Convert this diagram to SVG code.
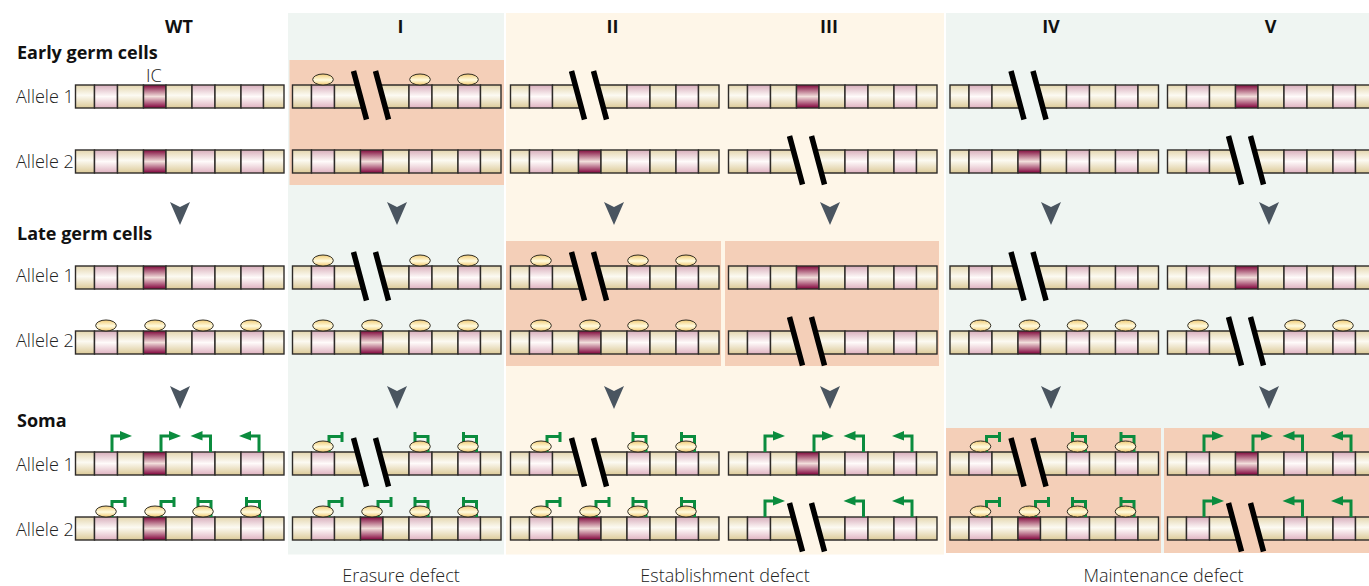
<svg xmlns="http://www.w3.org/2000/svg" width="1369" height="586" viewBox="0 0 1369 586">
<style>
text{font-family:"Open Sans","Liberation Sans",sans-serif;fill:#222;font-size:18px;font-weight:300}
.h{font-weight:700;fill:#111}
.c{text-anchor:middle}
.cell{stroke:#2e2b29;stroke-width:1.4}
.be{fill:url(#gb)}.pk{fill:url(#gp)}.ic{fill:url(#gi)}
.slash{stroke:#000;stroke-width:5.500;fill:none}
.gr{stroke:#0b8c3e;stroke-width:3;fill:none}
.grf{fill:#0b8c3e}
.el{fill:url(#ge);stroke:#2e2a20;stroke-width:1}
.chev{fill:#4a5560}
</style>
<defs>
<linearGradient id="gb" x1="0" y1="0" x2="0" y2="1"><stop offset="0" stop-color="#e4d6ae"/><stop offset=".45" stop-color="#fcfaf2"/><stop offset="1" stop-color="#dcca98"/></linearGradient>
<linearGradient id="gp" x1="0" y1="0" x2="0" y2="1"><stop offset="0" stop-color="#d8aebb"/><stop offset=".5" stop-color="#fffbfa"/><stop offset="1" stop-color="#dfb2c0"/></linearGradient>
<linearGradient id="gi" x1="0" y1="0" x2="0" y2="1"><stop offset="0" stop-color="#800a3c"/><stop offset=".5" stop-color="#f2dedb"/><stop offset="1" stop-color="#80003a"/></linearGradient>
<linearGradient id="ge" x1="0" y1="0" x2="0" y2="1"><stop offset="0" stop-color="#f2cb74"/><stop offset=".55" stop-color="#fffbe0"/><stop offset="1" stop-color="#f2c970"/></linearGradient>
<g id="bar">
<rect class="cell be" x="0" width="19" height="23"/><rect class="cell pk" x="19" width="23" height="23"/><rect class="cell be" x="42" width="26" height="23"/><rect class="cell ic" x="68" width="22.5" height="23"/><rect class="cell be" x="90.5" width="26" height="23"/><rect class="cell pk" x="116.5" width="23" height="23"/><rect class="cell be" x="139.5" width="26" height="23"/><rect class="cell pk" x="165.5" width="22.5" height="23"/><rect class="cell be" x="188" width="20.5" height="23"/>
</g>
<g id="cut">
<rect class="cell be" x="0" width="19" height="23"/><rect class="cell pk" x="19" width="23" height="23"/><path class="cell be" d="M42 0H65L71 23H42Z"/><path class="cell be" d="M87 0H116.5V23H93Z"/><rect class="cell pk" x="116.5" width="23" height="23"/><rect class="cell be" x="139.5" width="26" height="23"/><rect class="cell pk" x="165.5" width="22.5" height="23"/><rect class="cell be" x="188" width="20.5" height="23"/>
<path class="slash" d="M61 -14L74 34.500M83 -14L96 34.500"/>
</g>
<ellipse id="e" class="el" cx="0" cy="-5.500" rx="10.300" ry="5.500"/>
<g id="ar"><path class="gr" d="M0 0V-16H10"/><path class="grf" d="M8 -21L20 -16L8 -11.500Z"/></g>
<g id="al"><path class="gr" d="M0 0V-16H-10"/><path class="grf" d="M-8 -21L-20 -16L-8 -11.500Z"/></g>
<g id="tr"><path class="gr" d="M0 0V-15.500H13M13 -20V-10"/></g>
<g id="tl"><path class="gr" d="M0 0V-15.500H-13M-13 -20V-10"/></g>
<path id="ch" class="chev" d="M-10 -11L0 -6L10 -11L0 12Z"/>
<g id="e4"><use href="#e" x="30.500"/><use href="#e" x="79.500"/><use href="#e" x="127.500"/><use href="#e" x="175.500"/></g>
<g id="e3"><use href="#e" x="30.500"/><use href="#e" x="127.500"/><use href="#e" x="175.500"/></g>
<g id="A4"><use href="#ar" x="36.500"/><use href="#ar" x="85.500"/><use href="#al" x="135"/><use href="#al" x="183.500"/></g>
<g id="A3"><use href="#ar" x="36.500"/><use href="#al" x="135"/><use href="#al" x="183.500"/></g>
<g id="T4"><use href="#tr" x="36.500"/><use href="#tr" x="85.500"/><use href="#tl" x="135.500"/><use href="#tl" x="184"/><use href="#e4"/></g>
<g id="T3"><use href="#tr" x="36.500"/><use href="#tl" x="135.500"/><use href="#tl" x="184"/><use href="#e3"/></g>
</defs>

<g id="panels">
<rect x="288" y="13" width="216" height="541.500" fill="#eff5f2"/>
<rect x="506" y="13" width="438" height="541.500" fill="#fef6e8"/>
<rect x="946" y="13" width="423" height="540" fill="#eff5f2"/>
<rect x="289.500" y="60" width="214.500" height="125" fill="#f4cfb8"/>
<rect x="506" y="241" width="215" height="125" fill="#f4cfb8"/>
<rect x="725" y="241" width="214" height="125" fill="#f4cfb8"/>
<rect x="946" y="428" width="215" height="125" fill="#f4cfb8"/>
<rect x="1164" y="428" width="205" height="125" fill="#f4cfb8"/>
</g>

<g id="labels">
<text class="h c" x="179" y="33">WT</text><text class="h c" x="400.500" y="33">I</text><text class="h c" x="612.500" y="33">II</text><text class="h c" x="829" y="33">III</text><text class="h c" x="1051" y="33">IV</text><text class="h c" x="1270.500" y="33">V</text>
<text class="h" x="17" y="59">Early germ cells</text><text class="h" x="17" y="240">Late germ cells</text><text class="h" x="17" y="427">Soma</text>
<text x="146" y="82">IC</text>
<text x="16" y="103">Allele 1</text><text x="16" y="168">Allele 2</text><text x="16" y="282">Allele 1</text><text x="16" y="347">Allele 2</text><text x="16" y="471">Allele 1</text><text x="16" y="536">Allele 2</text>
<text class="c" x="401" y="582">Erasure defect</text><text class="c" x="725" y="582">Establishment defect</text><text class="c" x="1163.500" y="582">Maintenance defect</text>
</g>

<g id="connectors">
<use href="#ch" x="180" y="213"/><use href="#ch" x="397" y="213"/><use href="#ch" x="614" y="213"/><use href="#ch" x="830" y="213"/><use href="#ch" x="1051" y="213"/><use href="#ch" x="1269" y="213"/>
<use href="#ch" x="180" y="397"/><use href="#ch" x="397" y="397"/><use href="#ch" x="614" y="397"/><use href="#ch" x="830" y="397"/><use href="#ch" x="1051" y="397"/><use href="#ch" x="1269" y="397"/>
</g>

<g id="wt-early-1" transform="translate(75.500 85)"><use href="#bar"/></g>
<g id="wt-early-2" transform="translate(75.500 150)"><use href="#bar"/></g>
<g id="wt-late-1" transform="translate(75.500 266)"><use href="#bar"/></g>
<g id="wt-late-2" transform="translate(75.500 331)"><use href="#bar"/><use href="#e4"/></g>
<g id="wt-soma-1" transform="translate(75.500 452)"><use href="#bar"/><use href="#A4"/></g>
<g id="wt-soma-2" transform="translate(75.500 517)"><use href="#bar"/><use href="#T4"/></g>

<g id="i-early-1" transform="translate(292.500 85)"><use href="#cut"/><use href="#e3"/></g>
<g id="i-early-2" transform="translate(292.500 150)"><use href="#bar"/></g>
<g id="i-late-1" transform="translate(292.500 266)"><use href="#cut"/><use href="#e3"/></g>
<g id="i-late-2" transform="translate(292.500 331)"><use href="#bar"/><use href="#e4"/></g>
<g id="i-soma-1" transform="translate(292.500 452)"><use href="#cut"/><use href="#T3"/></g>
<g id="i-soma-2" transform="translate(292.500 517)"><use href="#bar"/><use href="#T4"/></g>

<g id="ii-early-1" transform="translate(510.500 85)"><use href="#cut"/></g>
<g id="ii-early-2" transform="translate(510.500 150)"><use href="#bar"/></g>
<g id="ii-late-1" transform="translate(510.500 266)"><use href="#cut"/><use href="#e3"/></g>
<g id="ii-late-2" transform="translate(510.500 331)"><use href="#bar"/><use href="#e4"/></g>
<g id="ii-soma-1" transform="translate(510.500 452)"><use href="#cut"/><use href="#T3"/></g>
<g id="ii-soma-2" transform="translate(510.500 517)"><use href="#bar"/><use href="#T4"/></g>

<g id="iii-early-1" transform="translate(728.500 85)"><use href="#bar"/></g>
<g id="iii-early-2" transform="translate(728.500 150)"><use href="#cut"/></g>
<g id="iii-late-1" transform="translate(728.500 266)"><use href="#bar"/></g>
<g id="iii-late-2" transform="translate(728.500 331)"><use href="#cut"/></g>
<g id="iii-soma-1" transform="translate(728.500 452)"><use href="#bar"/><use href="#A4"/></g>
<g id="iii-soma-2" transform="translate(728.500 517)"><use href="#cut"/><use href="#A3"/></g>

<g id="iv-early-1" transform="translate(950 85)"><use href="#cut"/></g>
<g id="iv-early-2" transform="translate(950 150)"><use href="#bar"/></g>
<g id="iv-late-1" transform="translate(950 266)"><use href="#cut"/></g>
<g id="iv-late-2" transform="translate(950 331)"><use href="#bar"/><use href="#e4"/></g>
<g id="iv-soma-1" transform="translate(950 452)"><use href="#cut"/><use href="#T3"/></g>
<g id="iv-soma-2" transform="translate(950 517)"><use href="#bar"/><use href="#T4"/></g>

<g id="v-early-1" transform="translate(1167.500 85)"><use href="#bar"/></g>
<g id="v-early-2" transform="translate(1167.500 150)"><use href="#cut"/></g>
<g id="v-late-1" transform="translate(1167.500 266)"><use href="#bar"/></g>
<g id="v-late-2" transform="translate(1167.500 331)"><use href="#cut"/><use href="#e3"/></g>
<g id="v-soma-1" transform="translate(1167.500 452)"><use href="#bar"/><use href="#A4"/></g>
<g id="v-soma-2" transform="translate(1167.500 517)"><use href="#cut"/><use href="#A3"/></g>
</svg>
